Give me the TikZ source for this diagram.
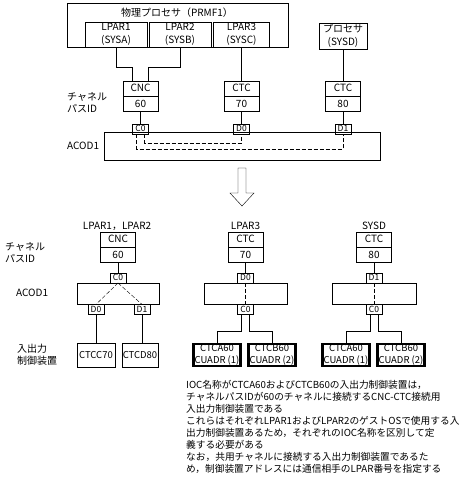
\documentclass[tikz,border=0pt]{standalone}
\usepackage{fontspec}
\setmainfont{Noto Sans CJK JP}
\usetikzlibrary{shapes.multipart,positioning}

\begin{document}
\begin{tikzpicture}[x=1pt,y=-1pt]
        \tikzstyle{jp}=[inner sep=0pt,align=left,font=\fontsize{10}{12}\selectfont]
        \tikzstyle{lbl}=[inner sep=0pt,font=\fontsize{10}{11}\selectfont]
        \tikzstyle{sysbox}=[draw,align=center,anchor=south,minimum height=25pt,inner sep=0pt,font=\fontsize{10}{12.5}\selectfont]
        \tikzstyle{chpid}=[rectangle split,rectangle split parts=2,draw,anchor=north,align=center,text width=28pt,text height=6.5pt,text depth=1.5pt,inner xsep=3.5pt,inner ysep=3.5pt,font=\fontsize{10}{10}\selectfont]
        \tikzstyle{port}=[draw,minimum width=16pt,minimum height=10pt,inner sep=0pt,font=\fontsize{8.5}{9}\selectfont]
        \tikzstyle{acod}=[draw,minimum height=21pt,inner sep=0pt]
        \tikzstyle{cu}=[draw,minimum height=24pt,align=center,inner xsep=1pt,inner ysep=0pt,font=\fontsize{9.5}{12}\selectfont]
        \tikzstyle{cushared}=[cu,line width=2.6pt,minimum width=43pt,minimum height=22pt]
        \tikzstyle{vc}=[dash pattern=on 4pt off 2pt]
        \useasboundingbox (0,0) rectangle (463,485);
        % before
        \node[draw,anchor=north west,minimum width=221pt,minimum height=44pt] (prmf) at (67,3) {};
        \node[jp] (prmft) at (177,13) {物理プロセサ（PRMF1）};
        \node[sysbox,minimum width=62pt] (lpar1) at (116,47) {LPAR1\\(SYSA)};
        \node[sysbox,minimum width=62pt] (lpar2) at (180,47) {LPAR2\\(SYSB)};
        \node[sysbox,minimum width=56pt] (lpar3) at (241.5,47) {LPAR3\\(SYSC)};
        \node[sysbox,minimum width=48pt,minimum height=26pt] (sysd) at (343,49) {プロセサ\\(SYSD)};
        \node[chpid] (cnc) at (140.5,81) {CNC\nodepart{two}60};
        \node[chpid] (ctc70) at (241.5,81) {CTC\nodepart{two}70};
        \node[chpid] (ctc80) at (343,81) {CTC\nodepart{two}80};
        \node[port,below=12pt of cnc] (c0t) {C0};
        \node[port,below=12pt of ctc70] (d0t) {D0};
        \node[port,below=12pt of ctc80] (d1t) {D1};
        \node[acod,anchor=north west,minimum width=276pt,minimum height=28pt] (acodt) at (104,131.5) {};
        \node[jp,anchor=west] (cpl1) at (67,102.5) {チャネル\\パスID};
        \node[lbl,anchor=west] (acl1) at (67,146) {ACOD1};
        \draw (lpar1.south) -- ++(0,20) -| ([xshift=-8pt]cnc.north);
        \draw (lpar2.south) -- ++(0,20) -| ([xshift=8pt]cnc.north);
        \draw (lpar3.south) -- (ctc70.north);
        \draw (sysd.south) -- (ctc80.north);
        \draw (cnc.south) -- (c0t.north);
        \draw (ctc70.south) -- (d0t.north);
        \draw (ctc80.south) -- (d1t.north);
        \draw[vc] ([xshift=-4pt]c0t.south) -- ++(0,15) -| (d1t.south);
        \draw[vc] ([xshift=4pt]c0t.south) -- ++(0,9) -| (d0t.south);
        % arrow
        \draw (238,168) -- (238,193) -- (230,193) -- (242,206) -- (254,193) -- (246,193) -- (246,168) -- cycle;
        % after
        \node[lbl] (tl1) at (117,226) {LPAR1，LPAR2};
        \node[lbl] (tl2) at (245.5,226) {LPAR3};
        \node[lbl] (tl3) at (374,226) {SYSD};
        \node[chpid] (cnc2) at (118,232) {CNC\nodepart{two}60};
        \node[chpid] (ctc70b) at (245.5,232) {CTC\nodepart{two}70};
        \node[chpid] (ctc80b) at (374,232) {CTC\nodepart{two}80};
        \node[jp,anchor=west] (cpl2) at (5,253) {チャネル\\パスID};
        \node[lbl,anchor=west] (acl2) at (16,293) {ACOD1};
        \node[jp,anchor=west] (iol) at (17,355) {入出力\\制御装置};
        % LPAR1, LPAR2
        \node[port,below=10pt of cnc2] (c0l) {C0};
        \node[acod,minimum width=82pt,below=0pt of c0l] (acodl) {};
        \node[port,anchor=north] (d0l) at ([xshift=-22pt]acodl.south) {D0};
        \node[port,anchor=north] (d1l) at ([xshift=24pt]acodl.south) {D1};
        \node[cu,minimum width=38pt] (ctcc) at (96,355) {CTCC70};
        \node[cu,minimum width=34pt] (ctcd) at (140,355) {CTCD80};
        \draw (cnc2.south) -- (c0l.north);
        \draw[vc] (c0l.south) -- (d0l.north);
        \draw[vc] (c0l.south) -- (d1l.north);
        \draw (d0l.south) -- (d0l.south |- ctcc.north);
        \draw (d1l.south) -- (d1l.south |- ctcd.north);
        % LPAR3
        \node[port,below=10pt of ctc70b] (d0m) {D0};
        \node[acod,minimum width=83pt,below=0pt of d0m] (acodm) {};
        \node[port,below=0pt of acodm] (c0m) {C0};
        \node[cushared] (ctca1) at (217,355) {CTCA60\\CUADR (1)};
        \node[cushared] (ctcb1) at (272,355) {CTCB60\\CUADR (2)};
        \draw (ctc70b.south) -- (d0m.north);
        \draw[vc] (d0m.south) -- (c0m.north);
        \draw ([xshift=-4pt]c0m.south) -- ++(0,16) -| (ctca1.north);
        \draw ([xshift=4pt]c0m.south) -- ++(0,16) -| (ctcb1.north);
        % SYSD
        \node[port,below=10pt of ctc80b] (d1r) {D1};
        \node[acod,minimum width=84pt,below=0pt of d1r] (acodr) {};
        \node[port,below=0pt of acodr] (c0r) {C0};
        \node[cushared] (ctca2) at (346,355) {CTCA60\\CUADR (1)};
        \node[cushared] (ctcb2) at (401,355) {CTCB60\\CUADR (2)};
        \draw (ctc80b.south) -- (d1r.north);
        \draw[vc] (d1r.south) -- (c0r.north);
        \draw ([xshift=-4pt]c0r.south) -- ++(0,16) -| (ctca2.north);
        \draw ([xshift=4pt]c0r.south) -- ++(0,16) -| (ctcb2.north);
        % note
        \node[jp,anchor=north west,font=\fontsize{9.7}{12}\selectfont] (note) at (186,380) {IOC名称がCTCA60およびCTCB60の入出力制御装置は，\\チャネルパスIDが60のチャネルに接続するCNC-CTC接続用\\入出力制御装置である\\これらはそれぞれLPAR1およびLPAR2のゲストOSで使用する入\\出力制御装置あるため，それぞれのIOC名称を区別して定\\義する必要がある\\なお，共用チャネルに接続する入出力制御装置であるた\\め，制御装置アドレスには通信相手のLPAR番号を指定する};
\end{tikzpicture}
\end{document}
